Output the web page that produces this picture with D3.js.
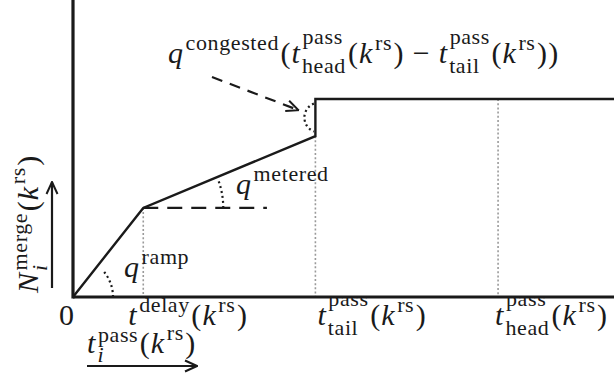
<!DOCTYPE html>
<html>
<head>
<meta charset="utf-8">
<script src="https://cdn.jsdelivr.net/npm/d3@7"></script>
<style>
  html, body { margin: 0; padding: 0; background: #fff; }
  svg { display: block; }
</style>
</head>
<body>
<svg id="chart" width="614" height="376"></svg>
<script>
// Cumulative merge count N_i^merge(k^rs) against passing time.
const times    = [0, 1.0, 3.45, 3.45, 7.7];   // breakpoints of the curve
const vehicles = [0, 1.8, 3.25, 4.0, 4.0];    // cumulative count at each breakpoint
const guideTimes = [1.0, 3.45, 6.05];          // dotted guides: delay, tail, head
const guideLevels = [1.8, 3.25, 4.0];
const tickTimes = [0, 1.0, 3.45, 6.05];

// Label tokens: base text, italic flag, superscript, subscript
const K = [{t: "(", it: false}, {t: "k", it: true, sup: "rs"}, {t: ")", it: false}];
const tickLabels = [
  [{t: "0", it: false}],
  [{t: "t", it: true, sup: "delay"}].concat(K),
  [{t: "t", it: true, sup: "pass", sub: "tail", high: true}].concat(K),
  [{t: "t", it: true, sup: "pass", sub: "head", high: true}].concat(K)
];
const tickOffsets = [-14, -15, 2, -3];

const FONT = "'Liberation Serif', 'DejaVu Serif', serif";
const svg = d3.select("#chart");

const x = d3.scaleLinear().domain([0, 7.7]).range([73, 614]);
const y = d3.scaleLinear().domain([0, 6.0]).range([297, 0]);

const MAIN = 30, SCRIPT = 22;

// Lays out a small math expression as one text element; returns the end x
function mathText(g, x0, y0, tokens, size, script) {
  const txt = g.append("text")
    .style("font-family", FONT)
    .style("letter-spacing", "0.6px")
    .attr("fill", "#1a1a1a");
  const span = (px, py, str, sz, italic) => txt.append("tspan")
    .attr("x", px).attr("y", py)
    .style("font-size", sz + "px")
    .style("font-style", italic ? "italic" : "normal")
    .text(str);
  let cx = x0;
  tokens.forEach(tok => {
    cx += tok.pad || 0;
    const el = span(cx, y0, tok.t, size, tok.it);
    cx += el.node().getComputedTextLength() + (tok.it ? 1.5 : 0.5) + (tok.pad || 0);
    let w = 0;
    if (tok.sup) {
      const raise = tok.high ? size * 0.64 : (tok.sub ? size * 0.36 : size * 0.42);
      const s = span(cx + 0.5, y0 - raise, tok.sup, script, false);
      w = Math.max(w, s.node().getComputedTextLength() + 2);
    }
    if (tok.sub) {
      const lower = tok.high ? size * 0.34 : size * 0.3;
      const s = span(cx, y0 + lower, tok.sub, script, !!tok.subIt);
      w = Math.max(w, s.node().getComputedTextLength() + 2);
    }
    cx += w;
  });
  return cx;
}

const defs = svg.append("defs");
defs.append("marker")
  .attr("id", "chev")
  .attr("markerUnits", "userSpaceOnUse")
  .attr("viewBox", "0 0 14 14")
  .attr("refX", 13).attr("refY", 7)
  .attr("markerWidth", 14).attr("markerHeight", 14)
  .attr("orient", "auto")
  .append("path")
  .attr("d", "M1,1.5 L13,7 L1,12.5")
  .attr("fill", "none").attr("stroke", "#1a1a1a").attr("stroke-width", 2);

// Dotted guides down to the time axis
svg.append("g").selectAll("line").data(guideTimes).join("line")
  .attr("x1", d => x(d)).attr("x2", d => x(d))
  .attr("y1", (d, i) => y(guideLevels[i])).attr("y2", y(0))
  .attr("stroke", "#9a9a9a").attr("stroke-width", 1.6)
  .attr("stroke-dasharray", "2,2.2");

// Horizontal dashed reference at the end of the ramp phase
svg.append("line")
  .attr("x1", x(times[1])).attr("x2", x(2.76))
  .attr("y1", y(vehicles[1])).attr("y2", y(vehicles[1]))
  .attr("stroke", "#1a1a1a").attr("stroke-width", 2.2)
  .attr("stroke-dasharray", "15,9");

// Angle arcs marking the flow rates
function angleArc(cx, cy, r, a0, a1) {
  const p = d3.path();
  p.arc(cx, cy, r, a0, a1, a1 < a0);
  return p.toString();
}
const arcs = svg.append("g").attr("fill", "none").attr("stroke", "#1a1a1a")
  .attr("stroke-width", 2.2).attr("stroke-dasharray", "2,3");
const rampAng = Math.atan2(y(0) - y(vehicles[1]), x(times[1]) - x(0));
arcs.append("path").attr("d", angleArc(x(0), y(0), 40, 0, -rampAng * 0.75));
const metAng = Math.atan2(y(vehicles[1]) - y(vehicles[2]), x(times[2]) - x(times[1]));
arcs.append("path").attr("d", angleArc(x(times[1]), y(vehicles[1]), 80, 0, -metAng * 0.9));
const cy3 = (y(vehicles[2]) + y(vehicles[3])) / 2;
arcs.append("path").attr("d", angleArc(x(times[2]) + 4, cy3, 15, -Math.PI * 0.62, -Math.PI * 1.38));

// Cumulative curve
const line = d3.line().x((d, i) => x(times[i])).y(d => y(d));
svg.append("path")
  .datum(vehicles)
  .attr("d", line)
  .attr("fill", "none").attr("stroke", "#1a1a1a").attr("stroke-width", 2.4)
  .attr("stroke-linejoin", "miter");

// Axes
svg.append("line").attr("x1", x(0)).attr("x2", x(0)).attr("y1", y(0) + 1.5).attr("y2", y(6))
  .attr("stroke", "#1a1a1a").attr("stroke-width", 3.2);
svg.append("line").attr("x1", x(0)).attr("x2", x(7.7)).attr("y1", y(0)).attr("y2", y(0))
  .attr("stroke", "#1a1a1a").attr("stroke-width", 3.2);

// Tick labels along the time axis
tickTimes.forEach((t, i) => {
  mathText(svg, x(t) + tickOffsets[i], 325, tickLabels[i], MAIN, SCRIPT);
});

// Flow-rate labels
mathText(svg, 124, 277, [{t: "q", it: true, sup: "ramp"}], MAIN, SCRIPT);
mathText(svg, 236, 194, [{t: "q", it: true, sup: "metered"}], MAIN, SCRIPT);
mathText(svg, 168, 63, [
  {t: "q", it: true, sup: "congested"},
  {t: "(", it: false},
  {t: "t", it: true, sup: "pass", sub: "head", high: true}
].concat(K).concat([
  {t: "\u2212", it: false, pad: 8},
  {t: "t", it: true, sup: "pass", sub: "tail", high: true}
]).concat(K).concat([{t: ")", it: false}]), MAIN, SCRIPT);

// Pointer to the congested jump
svg.append("line")
  .attr("x1", 212).attr("y1", 77)
  .attr("x2", x(times[2]) - 17).attr("y2", y(vehicles[2]) - 26)
  .attr("stroke", "#1a1a1a").attr("stroke-width", 2.2)
  .attr("stroke-dasharray", "11,8")
  .attr("marker-end", "url(#chev)");

// Axis titles with direction arrows
const yl = svg.append("g").attr("transform", "translate(38,293) rotate(-90)");
mathText(yl, 0, 0, [{t: "N", it: true, sup: "merge", sub: "i", subIt: true}].concat(K), MAIN, SCRIPT);
svg.append("line").attr("x1", 52).attr("x2", 52).attr("y1", 288).attr("y2", 182)
  .attr("stroke", "#1a1a1a").attr("stroke-width", 2.2).attr("marker-end", "url(#chev)");

mathText(svg, 87, 353, [{t: "t", it: true, sup: "pass", sub: "i", subIt: true}].concat(K), MAIN, SCRIPT);
svg.append("line").attr("x1", 87).attr("x2", 197).attr("y1", 366).attr("y2", 366)
  .attr("stroke", "#1a1a1a").attr("stroke-width", 2.2).attr("marker-end", "url(#chev)");
</script>
</body>
</html>
